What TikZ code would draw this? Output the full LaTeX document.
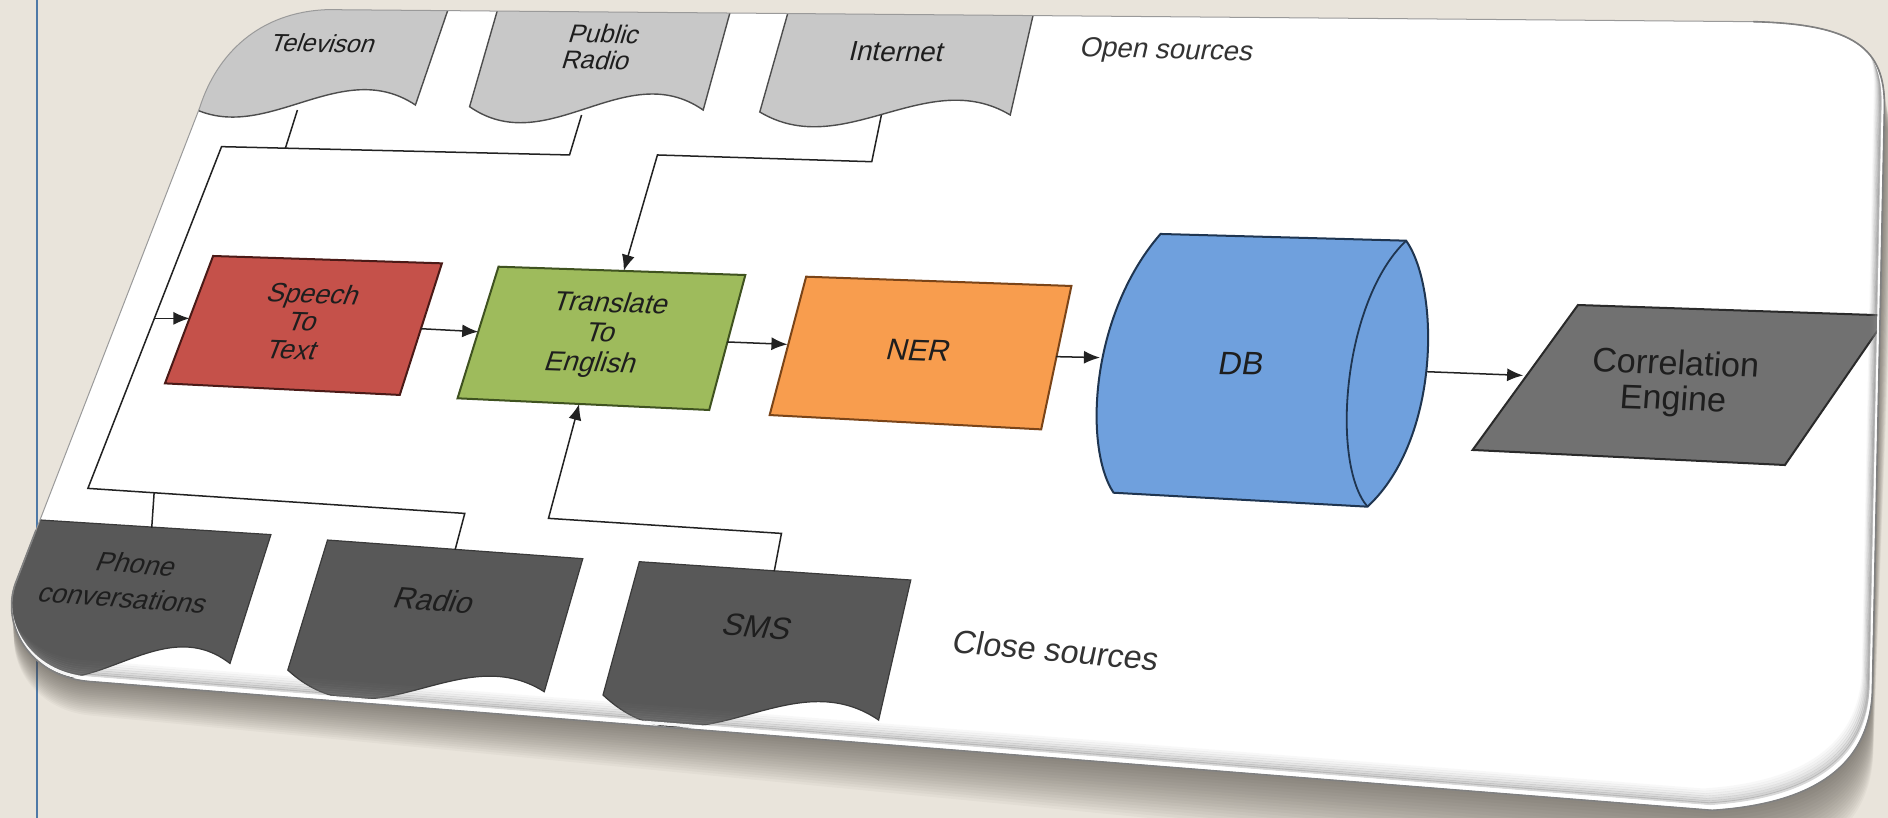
\documentclass[tikz,border=0pt]{standalone}
\usepackage{fontspec}
\setmainfont{Liberation Sans}
\usetikzlibrary{arrows.meta}
\definecolor{bgc}{HTML}{E9E4DB}
\definecolor{bluel}{HTML}{4E79A7}
\definecolor{shadc}{HTML}{4A453E}
\definecolor{tdocc}{HTML}{C8C8C8}
\definecolor{tdocs}{HTML}{4D4D4D}
\definecolor{bdocc}{HTML}{585858}
\definecolor{bdocs}{HTML}{3A3A3A}
\definecolor{stc}{HTML}{C5514A}
\definecolor{sts}{HTML}{4A1A17}
\definecolor{trc}{HTML}{9EBB5C}
\definecolor{trs}{HTML}{3F5220}
\definecolor{nerc}{HTML}{F89D4E}
\definecolor{ners}{HTML}{7A4418}
\definecolor{dbc}{HTML}{6FA0DD}
\definecolor{dbs}{HTML}{1F3550}
\definecolor{cec}{HTML}{717171}
\definecolor{ces}{HTML}{2A2A2A}
\definecolor{linec}{HTML}{222222}
\definecolor{txtc}{HTML}{1E1E1E}
\definecolor{txttwo}{HTML}{333333}
\definecolor{edgec}{HTML}{9A9A9A}
\definecolor{bandc}{HTML}{808080}
\newcommand{\cardpath}{(272,8) -- (1456,18) .. controls (1540,20) and (1566,40) .. (1565,90) -- (1555,575) .. controls (1552,640) and (1500,668) .. (1422,673) -- (74,566) .. controls (25,562) and (0,519) .. (13,484) -- (166,89) .. controls (180,45) and (215,10) .. (272,8) -- cycle}
\newcommand{\botpath}{(30,440) -- (13,484) .. controls (0,519) and (25,562) .. (74,566) -- (1422,673) .. controls (1500,668) and (1552,640) .. (1555,575) -- (1565,90) .. controls (1566,40) and (1540,20) .. (1456,18)}
\begin{document}
\begin{tikzpicture}[x=0.6pt,y=-0.6pt,
  conn/.style={draw=linec, line width=0.75pt, line join=miter},
  arr/.style={conn, -{Latex[length=8pt,width=6.5pt]}},
  tdoc/.style={fill=tdocc, draw=tdocs, line width=0.7pt},
  bdoc/.style={fill=bdocc, draw=bdocs, line width=0.6pt},
  box/.style={line width=1pt, line join=miter},
  lbl/.style={inner sep=0pt, text=txtc, align=center}]
\useasboundingbox (0,0) rectangle (1568,679);
\fill[bgc] (0,0) rectangle (1568,679);
\draw[bluel, line width=1pt] (31,0) -- (31,679);
% shadow of the card
\foreach \i in {1,...,18}{\fill[shadc, opacity=0.045, shift={(0.6*\i,1.5*\i)}, rotate around={-0.055*\i:(0,0)}] \cardpath;}
\begin{scope}
\clip \cardpath;
\fill[white] (0,0) rectangle (1568,679);
% open sources (top documents)
\draw[tdoc] (130,-5) -- (376.5,-5) -- (345,87.2) .. controls (280.3,44.2) and (215.7,127.5) .. (151,84.5) -- cycle;
\draw[tdoc] (417,-5) -- (610.5,-5) -- (584,91.4) .. controls (519.3,46.4) and (454.7,133.6) .. (390,88.6) -- cycle;
\draw[tdoc] (658.8,-5) -- (862,-5) -- (839,95.5) .. controls (769.7,54) and (700.3,134.5) .. (631,93) -- cycle;
% close sources (bottom documents)
\draw[bdoc] (20,431) -- (225,444) -- (191,551) .. controls (126.3,501) and (61.7,609) .. (-3,539) -- cycle;
\draw[bdoc] (272,448.5) -- (484,464) -- (452,574.5) .. controls (381,529.5) and (310,621.5) .. (239,556.5) -- cycle;
\draw[bdoc] (531,466.5) -- (756.4,481.7) -- (729.7,598) .. controls (653.4,546) and (577.1,649.2) .. (500.8,577.2) -- cycle;
% process boxes
\draw[box, fill=stc, draw=sts] (177,212.6) -- (367,218.7) -- (332,328) -- (137,318.4) -- cycle;
\draw[box, fill=trc, draw=trs] (414,221.5) -- (619,228.4) -- (589,340.5) -- (380,330.8) -- cycle;
\draw[box, fill=nerc, draw=ners] (669.5,229.8) -- (889.8,237.5) -- (864.7,356.6) -- (639.2,344.7) -- cycle;
\draw[box, fill=dbc, draw=dbs] (963.8,194.3) -- (1167.8,199.9) .. controls (1196,240) and (1196,365) .. (1135.7,420.8) -- (924.8,409.2) .. controls (900,372) and (905,262) .. (963.8,194.3) -- cycle;
\draw[dbs, line width=0.9pt] (1167.8,199.9) .. controls (1115,250) and (1105,385) .. (1135.7,420.8);
\draw[box, fill=cec, draw=ces] (1310.5,253.3) -- (1568,262) -- (1482.4,386.2) -- (1223,373.7) -- cycle;
% labels
\node[lbl, font=\fontsize{12.4}{13}\selectfont, rotate=-1, xslant=0.34] (tv) at (269,36) {Televison};
\node[lbl, font=\fontsize{12.8}{13.2}\selectfont, rotate=-1.5, xslant=0.28] (pr) at (499,39) {Public\\Radio};
\node[lbl, font=\fontsize{13.8}{14}\selectfont, rotate=-0.5, xslant=0.23] (in) at (745,43) {Internet};
\node[lbl, font=\fontsize{13.8}{14}\selectfont, rotate=-1.5, xslant=0.2, text=txttwo] (os) at (969,43) {Open sources};
\node[lbl, font=\fontsize{13.4}{14.1}\selectfont, rotate=-2, xslant=0.35] (st) at (252,267) {Speech\\To\\Text};
\node[lbl, font=\fontsize{13.8}{15}\selectfont, rotate=-2, xslant=0.3] (tr) at (499,278) {Translate\\To\\English};
\node[lbl, font=\fontsize{14.9}{15}\selectfont, rotate=-2, xslant=0.22] (ner) at (763,291) {NER};
\node[lbl, font=\fontsize{16.2}{17}\selectfont, rotate=-1.5, xslant=0.15] (db) at (1031,302) {DB};
\node[lbl, font=\fontsize{17}{17.6}\selectfont, rotate=-2, xslant=0.04] (ce) at (1390.5,318.5) {Correlation\\Engine};
\node[lbl, font=\fontsize{13.5}{17.4}\selectfont, rotate=-4, xslant=0.32] (ph) at (108,482.5) {Phone\\conversations};
\node[lbl, font=\fontsize{15}{15}\selectfont, rotate=-4.5, xslant=0.3] (ra) at (361,498.4) {Radio};
\node[lbl, font=\fontsize{15.6}{16}\selectfont, rotate=-4.5, xslant=0.25] (sms) at (629,520.5) {SMS};
\node[lbl, font=\fontsize{16.2}{17}\selectfont, rotate=-5, xslant=0.12, text=txttwo] (cs) at (877,540) {Close sources};
% connector end points
\coordinate (tvB) at (247,91.4);
\coordinate (tvJ) at (237,123.1);
\coordinate (busTL) at (184,121.8);
\coordinate (prJ) at (473,128.7);
\coordinate (prB) at (483,95.5);
\coordinate (busBL) at (73,405.6);
\coordinate (phJ) at (128,409.3);
\coordinate (phT) at (126,438.5);
\coordinate (raJ) at (386,426.4);
\coordinate (raT) at (378,456.5);
\coordinate (stIn) at (128.2,264.4);
\coordinate (stL) at (157.4,264.4);
\coordinate (inB) at (732,95.5);
\coordinate (inJ) at (724,134.3);
\coordinate (inK) at (546,128.7);
\coordinate (trT) at (518,225);
\coordinate (smT) at (643,474.5);
\coordinate (smJ) at (649,443);
\coordinate (smK) at (455.5,430.5);
\coordinate (trB) at (481,335.5);
\coordinate (stR) at (349.6,273);
\coordinate (trL) at (397.2,275.5);
\coordinate (trR) at (604,284);
\coordinate (nerL) at (654,286);
\coordinate (nerR) at (877,296.2);
\coordinate (dbL) at (913.5,297);
\coordinate (dbR) at (1185,308.7);
\coordinate (ceL) at (1265,311.8);
% connectors
\draw[conn] (tvB) -- (tvJ);
\draw[conn] (prB) -- (prJ) -- (busTL) -- (busBL) -- (raJ) -- (raT);
\draw[conn] (phJ) -- (phT);
\draw[arr] (stIn) -- (stL);
\draw[arr] (inB) -- (inJ) -- (inK) -- (trT);
\draw[arr] (smT) -- (smJ) -- (smK) -- (trB);
\draw[arr] (stR) -- (trL);
\draw[arr] (trR) -- (nerL);
\draw[arr] (nerR) -- (dbL);
\draw[arr] (dbR) -- (ceL);
% curled lower and right edge of the card
\foreach \o/\op in {17/0.05,15/0.09,13/0.14,11/0.2,9/0.28,7/0.34,5.5/0.3}{
  \draw[bandc, opacity=\op, line width=1.4pt, shift={(-0.45*\o,-\o)}] \botpath;}
\draw[white, opacity=0.95, line width=1.6pt, shift={(-1,-2.8)}] \botpath;
\end{scope}
\draw[edgec, line width=0.5pt] \cardpath;
\draw[bandc, line width=0.8pt] \botpath;
\end{tikzpicture}
\end{document}
